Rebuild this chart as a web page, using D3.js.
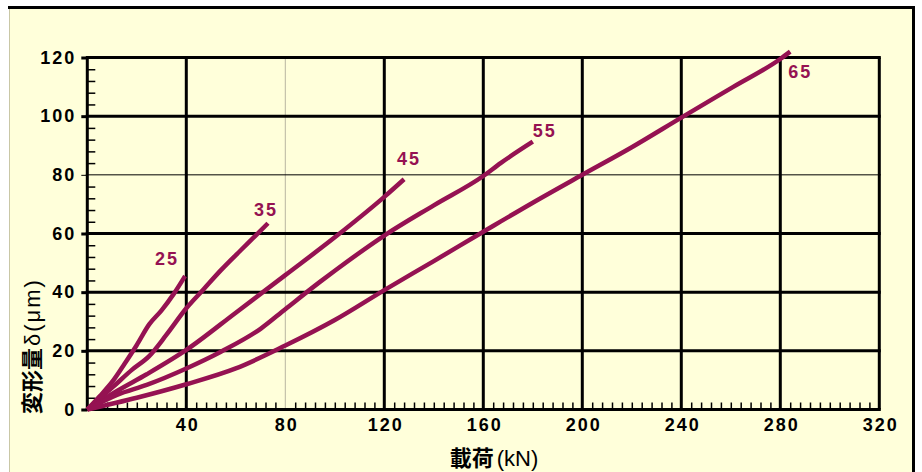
<!DOCTYPE html>
<html>
<head>
<meta charset="utf-8">
<script src="https://cdn.jsdelivr.net/npm/d3@7/dist/d3.min.js"></script>
<style>
  html, body { margin: 0; padding: 0; background: #ffffff; }
  svg { display: block; }
  .tick text { font-family: "Liberation Sans", Arial, sans-serif; font-weight: bold; font-size: 18px; fill: #000; letter-spacing: 2px; }
</style>
</head>
<body>
<svg id="chart" width="922" height="472"></svg>
<script>
// Load (kN) vs deformation (µm) curves, one per preload series
const seriesNames = ["25", "35", "45", "55", "65"];

const load25 = [0, 5, 10.5, 15, 20, 25, 30, 35, 39.5];
const defl25 = [0, 4.5, 9.9, 15.5, 22, 29, 33.8, 39.5, 45.5];

const load35 = [0, 10.5, 18, 25, 32, 40, 47, 54, 62, 68, 73];
const defl35 = [0, 7.8, 13.5, 18.2, 25.5, 34.5, 41, 47.5, 54.3, 59.3, 63.5];

const load45 = [0, 12, 24, 40, 60, 80, 100, 120, 128];
const defl45 = [0, 6.3, 12, 20.3, 33, 45.8, 58.7, 72.5, 78.5];

const load55 = [0, 12, 24, 40, 54, 70, 80, 94, 100, 120, 140, 160, 167, 180];
const defl55 = [0, 5, 8.4, 14, 19.7, 27.5, 34.2, 43.5, 47.3, 59.3, 69.6, 79.6, 84, 91.3];

const load65 = [0, 20, 40, 60, 80, 100, 120, 140, 160, 180, 200, 220, 240, 261, 280, 284];
const defl65 = [0, 4, 8.6, 14, 21.8, 30.5, 40.7, 50.6, 60.6, 70.5, 80, 89.4, 99.5, 110, 119.5, 122];

const xTickLabels = [40, 80, 120, 160, 200, 240, 280, 320];
const yTickLabels = [0, 20, 40, 60, 80, 100, 120];
const xTitle = "載荷";
const xUnit = "(kN)";
const yTitle = "変形量";
const yUnit = "δ(μm)";

const seriesLoads = [load25, load35, load45, load55, load65];
const seriesDefls = [defl25, defl35, defl45, defl55, defl65];

// Pixel offsets of each series label from the curve end
const labelOffsets = [[-18, -17], [-2, -13], [5, -20], [12, -11], [10, 20]];

const curveColor = "#951252";
const svg = d3.select("#chart");

// Panel background and frame
svg.append("rect").attr("x", 9).attr("y", 9).attr("width", 903).attr("height", 463)
  .attr("fill", "#ffffda");
svg.append("line").attr("x1", 9.5).attr("x2", 9.5).attr("y1", 9).attr("y2", 472)
  .attr("stroke", "#c9c7a6").attr("stroke-width", 1);
svg.append("line").attr("x1", 8).attr("x2", 915).attr("y1", 7.5).attr("y2", 7.5)
  .attr("stroke", "#000").attr("stroke-width", 3);
svg.append("line").attr("x1", 913.5).attr("x2", 913.5).attr("y1", 6).attr("y2", 472)
  .attr("stroke", "#000").attr("stroke-width", 3);

const x = d3.scaleLinear().domain([0, 320]).range([87.3, 879.3]);
const y = d3.scaleLinear().domain([0, 120]).range([409.5, 57.5]);

// Grid: heavy lines except at 80 on each axis
const grid = svg.append("g");
grid.selectAll(".vgrid").data([0].concat(xTickLabels)).join("line")
  .attr("x1", d => x(d)).attr("x2", d => x(d))
  .attr("y1", y(0)).attr("y2", y(120))
  .attr("stroke", d => d === 80 ? "#b8b6a0" : "#000")
  .attr("stroke-width", d => d === 80 ? 1 : 3);
grid.selectAll(".hgrid").data(yTickLabels).join("line")
  .attr("x1", x(0) - 1.5).attr("x2", x(320) + 1.5)
  .attr("y1", d => y(d)).attr("y2", d => y(d))
  .attr("stroke", "#000")
  .attr("stroke-width", d => d === 80 ? 1 : 3);

// Minor ticks every 4 units
const xMinor = d3.range(4, 320, 4).filter(v => v % 40 !== 0);
const yMinor = d3.range(4, 120, 4).filter(v => v % 20 !== 0);

svg.append("g").attr("transform", `translate(0,${y(0)})`)
  .call(d3.axisBottom(x).tickValues(xMinor).tickSize(-7).tickFormat(""))
  .call(g => g.select(".domain").remove())
  .call(g => g.selectAll("line").attr("stroke", "#000").attr("stroke-width", 1.5));

svg.append("g").attr("transform", `translate(${x(0)},0)`)
  .call(d3.axisLeft(y).tickValues(yMinor).tickSize(-8).tickFormat(""))
  .call(g => g.select(".domain").remove())
  .call(g => g.selectAll("line").attr("stroke", "#000").attr("stroke-width", 1.5));

// Axis labels
svg.append("g").attr("transform", `translate(0,${y(0)})`)
  .call(d3.axisBottom(x).tickValues(xTickLabels).tickSize(0).tickPadding(9).tickFormat(d3.format("d")))
  .call(g => g.select(".domain").remove())
  .call(g => g.selectAll("text").attr("dy", "0.71em").attr("dx", "1px"));

svg.append("g").attr("transform", `translate(${x(0)},0)`)
  .call(d3.axisLeft(y).tickValues(yTickLabels).tickSize(6).tickPadding(7).tickFormat(d3.format("d")))
  .call(g => g.select(".domain").remove())
  .call(g => g.selectAll("line").attr("stroke", "#000").attr("stroke-width", d => d === 80 ? 1 : 3))
  .call(g => g.selectAll("text").attr("dx", "2px"));

// Curves
const line = d3.line().x(d => x(d[0])).y(d => y(d[1])).curve(d3.curveMonotoneX);
seriesNames.forEach((name, i) => {
  const pts = seriesLoads[i].map((v, j) => [v, seriesDefls[i][j]]);
  svg.append("path").datum(pts)
    .attr("d", line)
    .attr("fill", "none")
    .attr("stroke", curveColor)
    .attr("stroke-width", 4.5)
    .attr("stroke-linejoin", "round");
  const last = pts[pts.length - 1];
  svg.append("text")
    .attr("x", x(last[0]) + labelOffsets[i][0])
    .attr("y", y(last[1]) + labelOffsets[i][1])
    .attr("text-anchor", "middle").attr("dominant-baseline", "central")
    .attr("font-family", "Liberation Sans, Arial, sans-serif")
    .attr("font-weight", "bold").attr("font-size", 18).attr("letter-spacing", 2)
    .attr("fill", curveColor)
    .text(name);
});

// Axis titles
const xt = svg.append("text").attr("x", 494).attr("y", 466)
  .attr("text-anchor", "middle")
  .attr("font-size", 22).attr("fill", "#000");
xt.append("tspan").attr("font-family", "Noto Sans CJK JP").attr("font-weight", "bold").text(xTitle);
xt.append("tspan").attr("font-family", "Liberation Sans, Arial, sans-serif").attr("dx", 3).text(xUnit);

const yt = svg.append("text")
  .attr("transform", "translate(40,346) rotate(-90)")
  .attr("text-anchor", "middle")
  .attr("font-size", 22).attr("fill", "#000");
yt.append("tspan").attr("font-family", "Noto Sans CJK JP").attr("font-weight", "bold").text(yTitle);
yt.append("tspan").attr("font-family", "Liberation Sans, Arial, sans-serif").attr("dx", 2)
  .attr("letter-spacing", 2).text(yUnit);
</script>
</body>
</html>
